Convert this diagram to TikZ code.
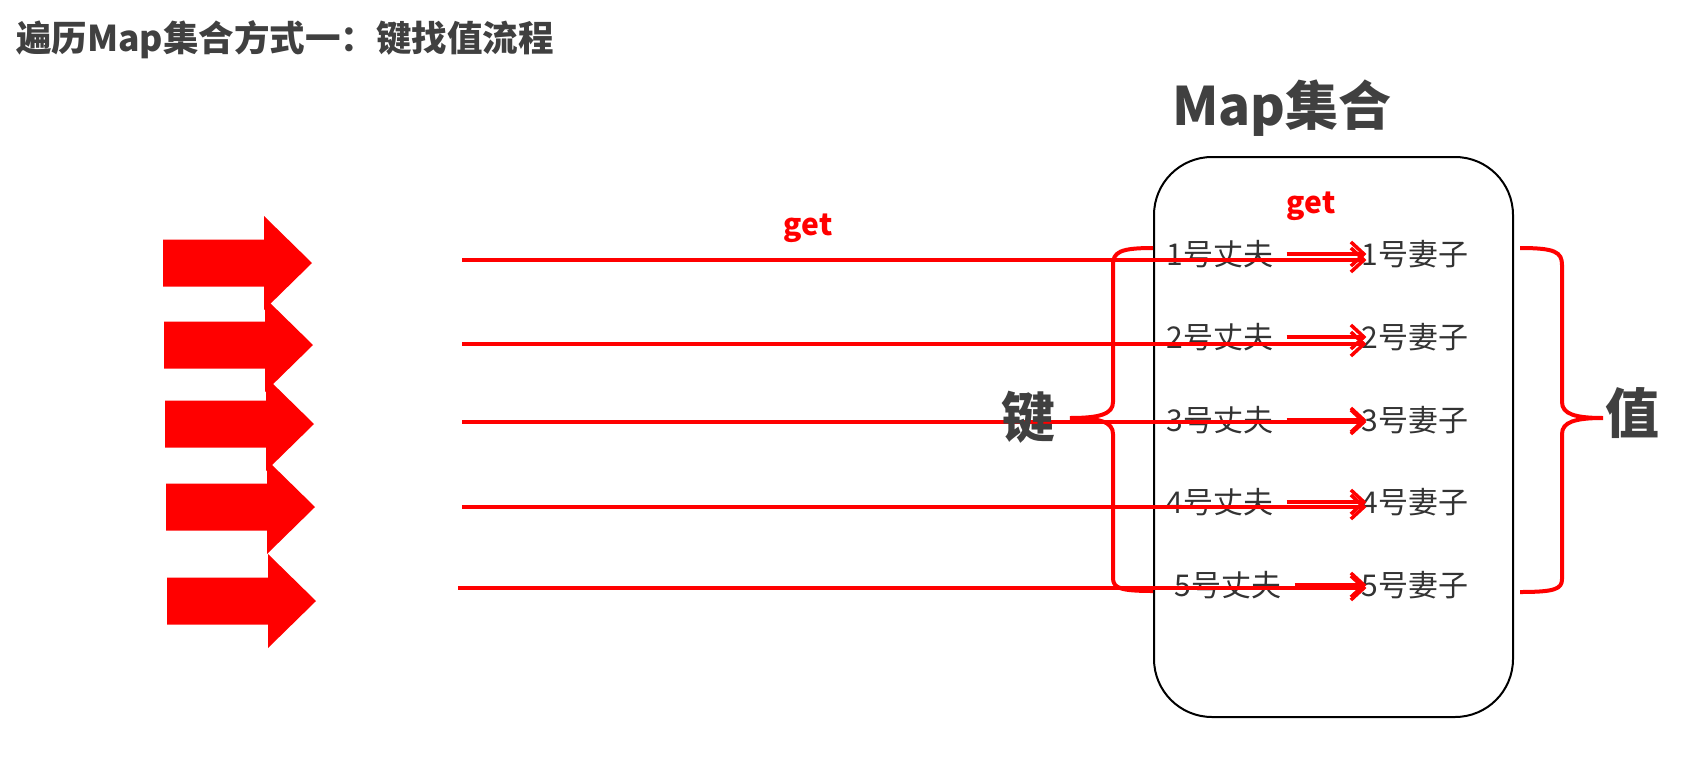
\documentclass[tikz,border=0pt]{standalone}
\usepackage{fontspec}
\setmainfont{Noto Sans CJK SC}
\usetikzlibrary{arrows.meta, positioning, calc}

\definecolor{headgray}{HTML}{404040}
\definecolor{textgray}{HTML}{333333}
\definecolor{mapred}{HTML}{FF0000}

\begin{document}
\begin{tikzpicture}[
    x=1pt, y=-1pt,
    head/.style={font=\bfseries\fontsize{35.5}{40}\selectfont, text=headgray, inner sep=0pt},
    big/.style={font=\bfseries\fontsize{54}{60}\selectfont, text=headgray, inner sep=0pt},
    mapbox/.style={rectangle, draw, line width=2pt, rounded corners=58pt, minimum width=359pt, minimum height=560pt},
    keytext/.style={font=\fontsize{30}{34}\selectfont, text=textgray, inner sep=0pt},
    getlabel/.style={font=\bfseries\fontsize{30}{34}\selectfont, text=mapred, inner sep=0pt},
    arrow/.style={-{Straight Barb[length=13pt, width=24pt]}, line width=3.5pt, mapred},
    bigarrow/.style={fill=mapred},
    curly/.style={draw=mapred, line width=4pt},
]

\fill[white] (0,0) rectangle (1687,758);
\useasboundingbox (0,0) rectangle (1687,758);

\node[head, anchor=west] (title) at (16,40) {遍历Map集合方式一：键找值流程};

\node[mapbox] (map) at (1333.5,437) {};
\node[big, font=\bfseries\fontsize{53}{60}\selectfont] (maptitle) at (1282,108) {Map集合};
\node[getlabel] (getin) at (1311,206) {get};
\node[getlabel] (getout) at (808,228) {get};

\foreach \y/\x in {263/163, 345/164, 424/165, 507/166, 601/167}
    \fill[bigarrow] (\x,\y-23.5) -- (\x+101,\y-23.5) -- (\x+101,\y-47) -- (\x+149,\y)
        -- (\x+101,\y+47) -- (\x+101,\y+23.5) -- (\x,\y+23.5) -- cycle;

\foreach \i/\y/\hx/\ly/\lx in {1/254/1220/260/462, 2/337/1220/344/462, 3/420/1220/422/462, 4/502/1220/507/462, 5/585/1228/588/458} {
    \node[keytext] (h\i) at (\hx,\y) {\i{}号丈夫};
    \node[keytext] (w\i) at (1415,\y) {\i{}号妻子};
    \coordinate (s\i) at (\lx,\ly);
    \draw[arrow] ([xshift=13pt]h\i.east) -- ([xshift=5pt]w\i.west);
    \draw[arrow] (s\i) -- ($(w\i.west |- s\i)+(5,0)$);
}

\node[big] (key) at (1028,417) {键};
\node[big] (value) at (1632,413) {值};

\draw[curly] (1153,248) .. controls (1120,248) and (1113,252) .. (1113,265) -- (1113,402)
    .. controls (1113,414) and (1100,418) .. (1070,418)
    .. controls (1100,418) and (1113,422) .. (1113,434) -- (1113,578)
    .. controls (1113,588) and (1120,591) .. (1153,591);
\draw[curly] (1520,248) .. controls (1555,248) and (1562,252) .. (1562,265) -- (1562,402)
    .. controls (1562,414) and (1575,418) .. (1603,418)
    .. controls (1575,418) and (1562,422) .. (1562,434) -- (1562,579)
    .. controls (1562,589) and (1555,592) .. (1520,592);

\end{tikzpicture}
\end{document}
